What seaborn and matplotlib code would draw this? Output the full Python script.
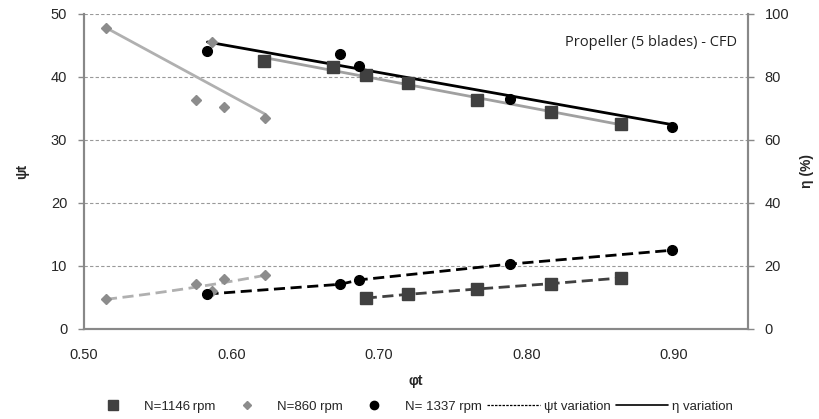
import numpy as np
import pandas as pd
import matplotlib
matplotlib.use("Agg")
import matplotlib.pyplot as plt
from matplotlib.lines import Line2D
import seaborn as sns

# ---- data ----
phi_1146_eta = [0.622, 0.669, 0.691, 0.7195, 0.7666, 0.8164, 0.8639]
eta_1146 = [85.0, 83.2, 80.6, 78.0, 72.6, 68.8, 65.0]
phi_1146_psi = [0.691, 0.7195, 0.7666, 0.8164, 0.8639]
psi_1146 = [4.9, 5.5, 6.35, 7.2, 8.1]

phi_860 = [0.5149, 0.5758, 0.5867, 0.595, 0.6224]
eta_860 = [95.6, 72.6, 91.0, 70.6, 67.0]
psi_860 = [4.7, 7.1, 6.1, 7.9, 8.5]

phi_1337 = [0.5837, 0.6738, 0.6867, 0.7885, 0.8985]
eta_1337 = [88.2, 87.2, 83.6, 73.0, 64.2]
psi_1337 = [5.55, 7.1, 7.8, 10.3, 12.5]

x_ticks = [0.50, 0.60, 0.70, 0.80, 0.90]
left_ticks = [0, 10, 20, 30, 40, 50]
right_ticks = [0, 20, 40, 60, 80, 100]
legend_labels = ["N=1146\u2009rpm", "N=860 rpm", "N= 1337 rpm", "\u03c8t variation", "\u03b7 variation"]

c_sq = "#404040"
c_di = "#8c8c8c"
c_ci = "#000000"
c_sq_line = "#a0a0a0"
c_di_line = "#b0b0b0"

sns.set_style("white")
plt.rcParams["font.family"] = ["Liberation Sans", "DejaVu Sans"]

fig = plt.figure(figsize=(8.2, 4.19), dpi=100)
ax = fig.add_axes([0.1024, 0.2148, 0.8096, 0.7518])
ax2 = ax.twinx()

# grid
for v in left_ticks[1:]:
    ax.axhline(v, color="#999999", lw=0.8, ls=(0, (3, 2)), zorder=0)

# psi (left axis)
df860 = pd.DataFrame({"phi": phi_860, "psi": psi_860})
sns.regplot(data=df860, x="phi", y="psi", order=2, scatter=False, ci=None, ax=ax,
            line_kws=dict(color=c_di_line, lw=2, ls=(0, (4, 2))))
sns.lineplot(x=phi_1337, y=psi_1337, ax=ax, color=c_ci, lw=2, ls=(0, (4, 2)), sort=True)
sns.lineplot(x=phi_1146_psi, y=psi_1146, ax=ax, color=c_sq, lw=2, ls=(0, (4, 2)), sort=True)
ax.plot(phi_860, psi_860, ls="none", marker="D", ms=5, color=c_di, zorder=5)
ax.plot(phi_1337, psi_1337, ls="none", marker="o", ms=7, color=c_ci, zorder=5)
ax.plot(phi_1146_psi, psi_1146, ls="none", marker="s", ms=8, color=c_sq, zorder=5)

# eta (right axis)
sns.regplot(x=phi_860, y=eta_860, scatter=False, ci=None, ax=ax2, truncate=True,
            line_kws=dict(color=c_di_line, lw=2))
sns.regplot(x=phi_1146_eta, y=eta_1146, scatter=False, ci=None, ax=ax2, truncate=True,
            line_kws=dict(color=c_sq_line, lw=2))
sns.regplot(x=phi_1337, y=eta_1337, scatter=False, ci=None, ax=ax2, truncate=True,
            line_kws=dict(color=c_ci, lw=2))
ax2.plot(phi_1146_eta, eta_1146, ls="none", marker="s", ms=8, color=c_sq, zorder=3)
ax2.plot(phi_860, eta_860, ls="none", marker="D", ms=5, color=c_di, zorder=5)
ax2.plot(phi_1337, eta_1337, ls="none", marker="o", ms=7, color=c_ci, zorder=5)

ax.set_xlim(0.5, 0.95)
ax.set_ylim(0, 50)
ax2.set_ylim(0, 100)
ax.set_xticks(x_ticks)
ax.set_xticklabels([f"{v:.2f}" for v in x_ticks])
ax.set_yticks(left_ticks)
ax2.set_yticks(right_ticks)

for a in (ax, ax2):
    for s in a.spines.values():
        s.set_color("#888888")
        s.set_linewidth(1.5)
    a.spines["top"].set_visible(False)
ax.tick_params(axis="x", length=4, width=1, color="#888888", pad=10, labelsize=10.5)
ax.tick_params(axis="y", length=4, width=1, color="#888888", pad=8, labelsize=10.5)
ax2.tick_params(axis="y", length=4, width=1, color="#888888", pad=8, labelsize=10.5)
ax.set_xlabel("\u03c6t", fontweight="bold", fontsize=10, labelpad=8)
ax.set_ylabel("\u03c8t", fontweight="bold", fontsize=10, labelpad=16)
ax2.set_ylabel("\u03b7 (%)", fontweight="bold", fontsize=10, labelpad=8)

ax.text(0.983, 0.911, "Propeller (5 blades) - CFD", transform=ax.transAxes, ha="right",
        va="center", fontsize=10.5, family=["Open Sans", "DejaVu Sans"], color="#222222")

handles = [
    Line2D([], [], ls="none", marker="s", ms=7, color=c_sq),
    Line2D([], [], ls="none", marker="D", ms=4, color=c_di),
    Line2D([], [], ls="none", marker="o", ms=6, color=c_ci),
    Line2D([], [], color="black", lw=0.9, ls=(0, (2, 1))),
    Line2D([], [], color="black", lw=1.2),
]
fig.legend(handles, legend_labels, loc="center", bbox_to_anchor=(0.5, 0.03), ncol=5,
           frameon=False, fontsize=9.5, handlelength=4.0, columnspacing=0.4, handletextpad=0.3)

fig.savefig("out.png", dpi=100)
